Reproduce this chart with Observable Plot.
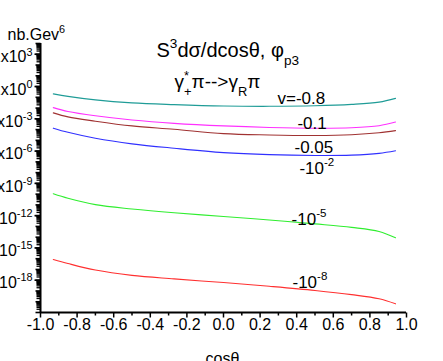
<!DOCTYPE html>
<html>
<head>
<meta charset="utf-8">
<script src="https://cdn.jsdelivr.net/npm/d3@7"></script>
<script src="https://cdn.jsdelivr.net/npm/@observablehq/plot@0.6"></script>
<style>
  html, body { margin: 0; padding: 0; background: white; overflow: hidden; }
  svg { display: block; }
</style>
</head>
<body>
<div id="chart"></div>
<script>
// ---- data ----
const cosTheta = [-0.93, -0.85, -0.7, -0.5, -0.27, 0, 0.25, 0.5, 0.7, 0.85, 0.94];
const seriesNames = ["v=-0.8", "-0.1", "-0.05", "-10^{-2}", "-10^{-5}", "-10^{-8}"];
const seriesColors = ["#1f9c97", "#ff30ff", "#a03232", "#3030ff", "#30ee30", "#ff3030"];
const vMinus08   = [2.09e-1, 1.23e-1, 5.75e-2, 3.02e-2, 2.09e-2, 1.55e-2, 1.45e-2, 1.62e-2, 2.19e-2, 3.55e-2, 7.94e-2];
const vMinus01   = [1.10e-2, 4.79e-3, 1.91e-3, 7.76e-4, 3.80e-4, 2.19e-4, 1.58e-4, 1.35e-4, 1.48e-4, 2.29e-4, 5.01e-4];
const vMinus005  = [3.55e-3, 1.51e-3, 6.03e-4, 2.19e-4, 1.07e-4, 4.17e-5, 3.16e-5, 2.82e-5, 3.31e-5, 5.01e-5, 7.94e-5];
const vMinus1em2 = [1.35e-4, 5.55e-5, 1.56e-5, 4.73e-6, 1.85e-6, 7.26e-7, 4.66e-7, 3.94e-7, 4.24e-7, 6.17e-7, 1.08e-6];
const vMinus1em5 = [1.08e-10, 4.14e-11, 1.06e-11, 4.17e-12, 1.84e-12, 8.47e-13, 4.00e-13, 1.72e-13, 8.13e-14, 3.42e-14, 8.79e-15];
const vMinus1em8 = [8.49e-17, 3.56e-17, 8.75e-18, 2.84e-18, 1.34e-18, 6.04e-19, 2.72e-19, 1.12e-19, 4.59e-20, 1.88e-20, 6.41e-21];
const labelCos = [0.295, 0.404, 0.388, 0.415, 0.372, 0.377];
const labelVal = [8.43e-2, 4.00e-4, 2.36e-6, 2.63e-8, 4.79e-13, 6.68e-19];

const xTicks = [-1.0, -0.8, -0.6, -0.4, -0.2, 0.0, 0.2, 0.4, 0.6, 0.8, 1.0];
const xTickLabels = ["-1.0", "-0.8", "-0.6", "-0.4", "-0.2", "0.0", "0.2", "0.4", "0.6", "0.8", "1.0"];
const xMinorTicks = [-0.9, -0.7, -0.5, -0.3, -0.1, 0.1, 0.3, 0.5, 0.7, 0.9];
const yTicks = [1e3, 1e0, 1e-3, 1e-6, 1e-9, 1e-12, 1e-15, 1e-18];
const yTickLabels = ["1x10^{3}", "1x10^{0}", "1x10^{-3}", "1x10^{-6}", "1x10^{-9}", "1x10^{-12}", "1x10^{-15}", "1x10^{-18}"];
const titleText = "S^{3}dσ/dcosθ, φ_{p3}";
const reactionText = "γ^{*}_{+}π-->γ_{R}π";
const unitText = "nb.Gev^{6}";
const xLabel = "cosθ";

// ---- table built from the arrays ----
const seriesValues = [vMinus08, vMinus01, vMinus005, vMinus1em2, vMinus1em5, vMinus1em8];
const rows = [];
seriesNames.forEach((name, s) => cosTheta.forEach((c, i) => rows.push({cos: c, val: seriesValues[s][i], series: name})));
const labels = seriesNames.map((name, i) => ({name, cos: labelCos[i], val: labelVal[i]}));

// log axis tick positions (decades and 2..9 sub-ticks)
const decadeTicks = [], minorLogTicks = [];
for (let k = -21; k <= 4; k++) {
  decadeTicks.push(Math.pow(10, k));
  if (k < 4) for (let m = 2; m <= 9; m++) minorLogTicks.push(m * Math.pow(10, k));
}

// tick-shaped symbols (a short stroke pointing out of the frame)
const hTick = len => ({draw(ctx) { ctx.moveTo(-len, 0); ctx.lineTo(0, 0); }});
const vTick = len => ({draw(ctx) { ctx.moveTo(0, 0); ctx.lineTo(0, len); }});

const font = "'Liberation Sans', Arial, Helvetica, sans-serif";

const chart = Plot.plot({
  width: 443,
  height: 361,
  marginLeft: 40,
  marginRight: 37,
  marginTop: 43,
  marginBottom: 49,
  style: {fontFamily: font, color: "black", background: "white"},
  x: {domain: [-1, 1], axis: null},
  y: {type: "log", domain: [1e-21, 1e4], axis: null},
  color: {domain: seriesNames, range: seriesColors},
  marks: [
    // y axis ticks
    Plot.dot(minorLogTicks, {y: d => d, frameAnchor: "left", symbol: hTick(4), stroke: "black", strokeWidth: 1.3, fill: "none"}),
    Plot.dot(decadeTicks, {y: d => d, frameAnchor: "left", symbol: hTick(5), stroke: "black", strokeWidth: 1.6, fill: "none"}),
    Plot.dot(yTicks, {y: d => d, frameAnchor: "left", symbol: hTick(6), stroke: "black", strokeWidth: 1.6, fill: "none"}),
    Plot.text(yTicks, {y: d => d, frameAnchor: "left", text: d => yTickLabels[yTicks.indexOf(d)],
      textAnchor: "end", dx: -8, dy: 3, fontSize: 16}),
    // x axis ticks
    Plot.dot(xMinorTicks, {x: d => d, frameAnchor: "bottom", symbol: vTick(3), stroke: "black", strokeWidth: 1.5, fill: "none"}),
    Plot.dot(xTicks, {x: d => d, frameAnchor: "bottom", symbol: vTick(5), stroke: "black", strokeWidth: 1.5, fill: "none"}),
    Plot.text(xTicks, {x: d => d, frameAnchor: "bottom", text: d => xTickLabels[xTicks.indexOf(d)],
      textAnchor: "middle", dy: 17, fontSize: 16}),
    // axis lines
    Plot.ruleX([-1], {y1: 1e-21, y2: 1e4, strokeWidth: 2}),
    Plot.ruleY([1e-21], {x1: -1, x2: 1, strokeWidth: 2}),
    // curves
    Plot.line(rows, {x: "cos", y: "val", z: "series", stroke: "series", strokeWidth: 1.1, curve: "catmull-rom"}),
    Plot.text(labels, {x: "cos", y: "val", text: "name", textAnchor: "start", fontSize: 17}),
    // titles
    Plot.text([unitText], {text: d => d, frameAnchor: "top-left", textAnchor: "start", dx: -33, dy: -15, fontSize: 16}),
    Plot.text([titleText], {text: d => d, frameAnchor: "top-left", textAnchor: "start", dx: 116, dy: -1, fontSize: 20}),
    Plot.text([reactionText], {text: d => d, frameAnchor: "top-left", textAnchor: "start", dx: 134, dy: 31, fontSize: 19}),
    Plot.text([xLabel], {text: d => d, frameAnchor: "bottom", textAnchor: "middle", dx: -1, dy: 51, fontSize: 16})
  ]
});

document.getElementById("chart").appendChild(chart);

// ---- turn ^{..} and _{..} markup into real superscript / subscript tspans ----
const NS = "http://www.w3.org/2000/svg";
function richify(el) {
  const s = el.textContent;
  if (!/[\^_]\{/.test(s)) return;
  const fs = parseFloat(getComputedStyle(el).fontSize) || 14;
  while (el.firstChild) el.removeChild(el.firstChild);
  const re = /([\^_])\{([^}]*)\}|([^\^_]+)/g;
  let m, cur = 0, prevSup = null;
  while ((m = re.exec(s))) {
    const t = document.createElementNS(NS, "tspan");
    let target;
    if (m[3] != null) {
      t.textContent = m[3];
      target = 0;
    } else {
      t.textContent = m[2];
      t.setAttribute("font-size", (fs * 0.68).toFixed(2));
      target = m[1] === "^" ? -0.43 * fs : 0.42 * fs;
    }
    t.setAttribute("dy", (target - cur).toFixed(2));
    cur = target;
    el.appendChild(t);
    if (m[1] === "_" && prevSup) t.setAttribute("dx", (-prevSup.getComputedTextLength()).toFixed(2));
    prevSup = m[1] === "^" ? t : null;
  }
}
chart.querySelectorAll("text").forEach(richify);
</script>
</body>
</html>
